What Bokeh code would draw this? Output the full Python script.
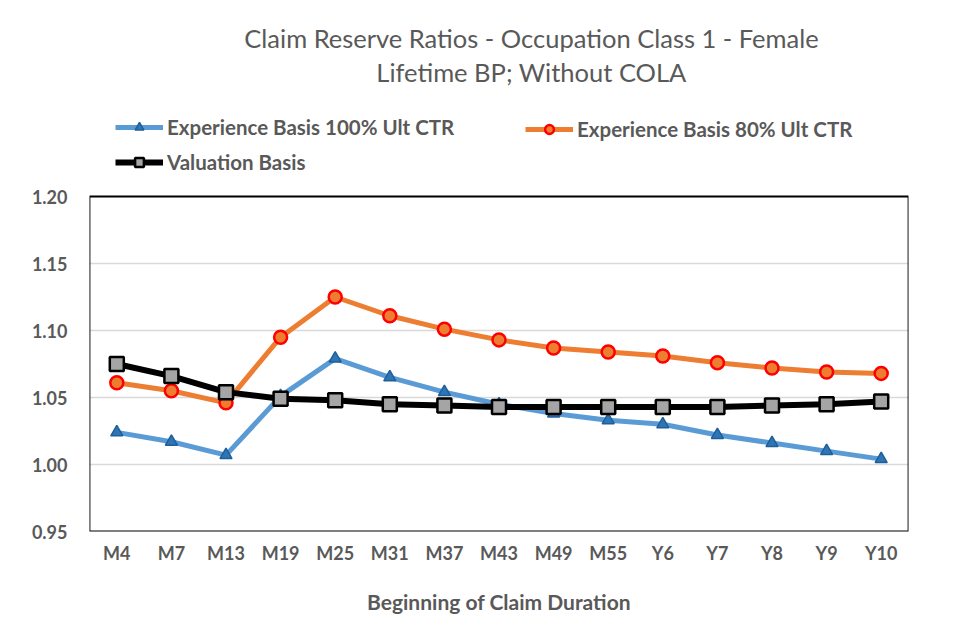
from bokeh.plotting import figure
from bokeh.models import Legend, LegendItem, Label, FactorRange, CustomJSTickFormatter, BoxAnnotation
from bokeh.embed import file_html
from bokeh.resources import INLINE

categories = ["M4", "M7", "M13", "M19", "M25", "M31", "M37", "M43", "M49", "M55",
              "Y6", "Y7", "Y8", "Y9", "Y10"]
exp_100 = [1.024, 1.017, 1.007, 1.051, 1.079, 1.065, 1.054, 1.045, 1.038, 1.033,
           1.030, 1.022, 1.016, 1.010, 1.004]
exp_80 = [1.061, 1.055, 1.046, 1.095, 1.125, 1.111, 1.101, 1.093, 1.087, 1.084,
          1.081, 1.076, 1.072, 1.069, 1.068]
valuation = [1.075, 1.066, 1.054, 1.049, 1.048, 1.045, 1.044, 1.043, 1.043, 1.043,
             1.043, 1.043, 1.044, 1.045, 1.047]
y_ticks = [0.95, 1.00, 1.05, 1.10, 1.15, 1.20]
title_lines = ["Claim Reserve Ratios - Occupation Class 1 - Female",
               "Lifetime BP; Without COLA"]

FONT = "Lato"
GREY = "#595959"

# plot box: 0.95 .. 1.20 spans 335 px; the frame is extended upward so that the
# title and legend can live inside it (annotations are clipped to the frame)
TOP_PAD = 10
FRAME_H = 624 - 93 - TOP_PAD
y_end = y_ticks[0] + FRAME_H * (y_ticks[-1] - y_ticks[0]) / 335.0

p = figure(width=946, height=624, x_range=FactorRange(*categories, range_padding=0),
           y_range=(y_ticks[0], y_end), output_backend="svg", toolbar_location=None,
           min_border_left=89, min_border_right=38, min_border_top=TOP_PAD,
           min_border_bottom=93)
p.title.text = ""
p.outline_line_color = None
p.add_layout(BoxAnnotation(bottom=y_ticks[0], top=y_ticks[-1], fill_alpha=0,
                           line_color="black", line_alpha=1.0, line_width=1.8))

p.yaxis.ticker = y_ticks
p.yaxis.formatter = CustomJSTickFormatter(code="return tick.toFixed(2);")
for ax in (p.xaxis, p.yaxis):
    ax.axis_line_color = None
    ax.major_tick_line_color = None
    ax.minor_tick_line_color = None
    ax.major_label_text_font = FONT
    ax.major_label_text_font_style = "bold"
    ax.major_label_text_font_size = "18px"
    ax.major_label_text_color = GREY
p.yaxis.major_label_standoff = 16
p.xaxis.major_label_standoff = 4
p.xaxis.axis_label = "Beginning of Claim Duration"
p.xaxis.axis_label_text_font = FONT
p.xaxis.axis_label_text_font_style = "bold"
p.xaxis.axis_label_text_font_size = "21px"
p.xaxis.axis_label_text_color = GREY
p.xaxis.axis_label_standoff = 22

p.xgrid.grid_line_color = None
p.ygrid.grid_line_color = "#D9D9D9"
p.ygrid.grid_line_width = 1.5

l1 = p.line(categories, exp_100, line_color="#5B9BD5", line_width=5)
m1 = p.scatter(categories, exp_100, marker="triangle", size=12, fill_color="#2E75B6",
               line_color="#1F5F99", line_width=1.5)
l2 = p.line(categories, exp_80, line_color="#ED7D31", line_width=5)
m2 = p.scatter(categories, exp_80, marker="circle", size=13, fill_color="#ED7D31",
               line_color="#FF0000", line_width=2.5)
l3 = p.line(categories, valuation, line_color="black", line_width=6)
m3 = p.scatter(categories, valuation, marker="square", size=14, fill_color="#A5A5A5",
               line_color="black", line_width=2.5)

leg_common = dict(padding=0, margin=0, spacing=11, label_height=22, glyph_height=22,
                  glyph_width=48, label_standoff=4, border_line_color=None,
                  background_fill_alpha=0, label_text_font=FONT,
                  label_text_font_style="bold", label_text_font_size="20.5px",
                  label_text_color=GREY)
leg1 = Legend(items=[LegendItem(label="Experience Basis 100% Ult CTR", renderers=[l1, m1]),
                     LegendItem(label="Valuation Basis", renderers=[l3, m3])],
              location=(26, 357), **leg_common)
leg2 = Legend(items=[LegendItem(label="Experience Basis 80% Ult CTR", renderers=[l2, m2])],
              location=(436, 390), **leg_common)
p.add_layout(leg1, "center")
p.add_layout(leg2, "center")

for txt, yy in ((title_lines[0], 494), (title_lines[1], 460)):
    p.add_layout(Label(x=442, y=yy, x_units="screen", y_units="screen", text=txt,
                       text_align="center", text_baseline="middle", text_font=FONT,
                       text_font_size="25.5px", text_color=GREY))

open("out.html", "w").write(file_html(p, INLINE))
